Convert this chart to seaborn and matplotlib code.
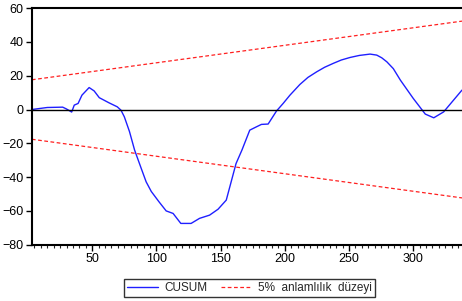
import numpy as np
import pandas as pd
import seaborn as sns
import matplotlib
matplotlib.use("Agg")
import matplotlib.pyplot as plt
from matplotlib.ticker import MultipleLocator

# CUSUM values
obs = [3, 11, 15, 27, 30, 34, 36, 39, 42, 47.6, 51.5, 55.5, 63, 69.5, 72.4, 75,
       79, 83, 88, 92, 96, 102, 107.6, 113, 119, 127, 133.6, 141.4, 148, 154.4,
       162, 166.6, 172.7, 178, 181.8, 187, 193.5, 198.7, 204, 211.7, 218, 224.8,
       231, 237.7, 244, 250.8, 258, 266.4, 271.6, 275.5, 279.5, 284.5, 290, 300,
       309.4, 316, 323.7, 338]
cusum = [0, 0.8, 1.2, 1.4, 0.3, -1.5, 2.6, 3.6, 8.5, 13, 11, 7, 4, 1.6, -0.4, -4.3,
         -13, -24, -34.5, -42.8, -48.5, -54.6, -60, -61.5, -67.4, -67.4, -64.4, -62.5,
         -59, -53.6, -32, -24, -12.2, -10.2, -8.8, -8.6, -0.9, 3.6, 8.5, 14.8, 19, 22.3,
         25, 27.3, 29.3, 30.8, 32, 32.8, 32.2, 30.6, 28.2, 24.2, 17.4, 6.6,
         -2.7, -4.9, -1.4, 11.5]

# 5% significance bounds (straight lines)
bound_x = [3, 338]
bound_upper = [17.6, 52.3]
bound_lower = [-17.6, -52.3]

sns.set_style("ticks")
plt.rcParams['font.family'] = ['Liberation Sans', 'DejaVu Sans']

fig = plt.figure(figsize=(4.62, 3.01), dpi=100)
ax = fig.add_axes([0.069, 0.187, 0.931, 0.786])

df = pd.DataFrame({"x": obs, "y": cusum})
sns.lineplot(data=df, x="x", y="y", ax=ax, color="#1f1fff", lw=1.0, label="CUSUM")
sns.lineplot(x=bound_x, y=bound_upper, ax=ax, color="#ff2020", lw=0.9,
             linestyle=(0, (3, 2)), label="5%  anlamlılık  düzeyi")
sns.lineplot(x=bound_x, y=bound_lower, ax=ax, color="#ff2020", lw=0.9,
             linestyle=(0, (3, 2)))
ax.axhline(0, color="black", lw=1.0)

ax.set_xlim(3, 338)
ax.set_ylim(-80, 60)
ax.xaxis.set_major_locator(MultipleLocator(50))
ax.xaxis.set_minor_locator(MultipleLocator(5))
ax.yaxis.set_major_locator(MultipleLocator(20))
ax.set_xlabel("")
ax.set_ylabel("")

for s in ["left", "bottom", "top"]:
    ax.spines[s].set_linewidth(1.5)
    ax.spines[s].set_color("black")
ax.spines["right"].set_visible(False)

ax.tick_params(axis="both", which="major", direction="out", length=4, width=1,
               labelsize=9, colors="black", pad=2)
ax.tick_params(axis="x", which="minor", direction="out", length=2.5, width=0.8)

ax.get_legend().remove()
h, l = ax.get_legend_handles_labels()
leg = fig.legend(h, l, loc="center", bbox_to_anchor=(0.54, 0.043), ncol=2,
                 frameon=True, fancybox=False, fontsize=8.5, handlelength=2.6,
                 borderpad=0.25, columnspacing=1.2, handletextpad=0.5)
leg.get_frame().set_edgecolor("black")
leg.get_frame().set_linewidth(1.0)

fig.savefig("out.png", dpi=100)
